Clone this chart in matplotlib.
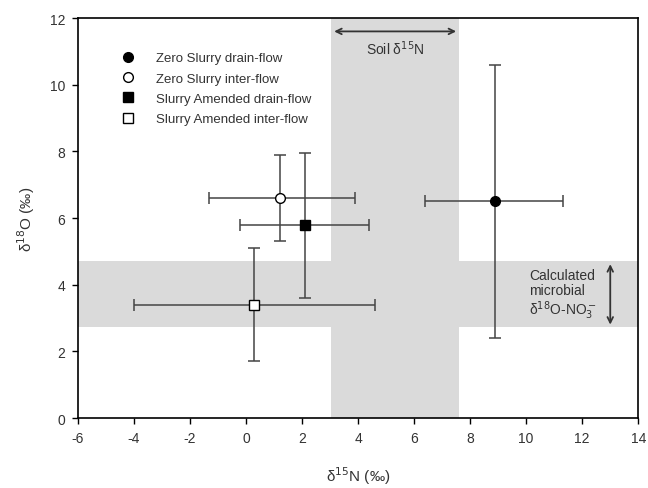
import matplotlib
matplotlib.use("Agg")
import matplotlib.pyplot as plt

plt.rcParams['font.family'] = ['Liberation Sans', 'DejaVu Sans']
plt.rcParams['axes.unicode_minus'] = False

labels = ["Zero Slurry drain-flow", "Zero Slurry inter-flow",
          "Slurry Amended drain-flow", "Slurry Amended inter-flow"]
d15N = [8.9, 1.2, 2.1, 0.3]
d15N_lo = [6.4, -1.3, -0.2, -4.0]
d15N_hi = [11.3, 3.9, 4.4, 4.6]
d18O = [6.5, 6.6, 5.8, 3.4]
d18O_lo = [2.4, 5.3, 3.6, 1.7]
d18O_hi = [10.6, 7.9, 7.95, 5.1]
markers = ["o", "o", "s", "s"]
faces = ["black", "white", "black", "white"]

soil_N = [3.05, 7.6]
micro_O = [2.72, 4.7]

fig = plt.figure(figsize=(6.48, 4.89), dpi=100)
ax = fig.add_axes([0.120, 0.143, 0.865, 0.818])

ax.axvspan(soil_N[0], soil_N[1], color='#dadada', lw=0, zorder=0)
ax.axhspan(micro_O[0], micro_O[1], color='#dadada', lw=0, zorder=0)

for i in range(4):
    xerr = [[d15N[i] - d15N_lo[i]], [d15N_hi[i] - d15N[i]]]
    yerr = [[d18O[i] - d18O_lo[i]], [d18O_hi[i] - d18O[i]]]
    ax.errorbar([d15N[i]], [d18O[i]], xerr=xerr, yerr=yerr, fmt='none',
                ecolor='#444444', elinewidth=1.1, capsize=4, capthick=1.1, zorder=2)
    ax.plot([d15N[i]], [d18O[i]], marker=markers[i], ms=7 if markers[i] == 'o' else 6.5,
            mfc=faces[i], mec='black', mew=1, ls='none', label=labels[i], zorder=3)

# Soil d15N arrow
ax.annotate('', xy=(soil_N[0], 11.6), xytext=(soil_N[1], 11.6),
            arrowprops=dict(arrowstyle='<->', color='#333333', lw=1.3))
ax.text(sum(soil_N) / 2, 11.1, 'Soil δ$^{15}$N', ha='center', va='center',
        fontsize=10, color='#333333')

# microbial d18O arrow
ax.annotate('', xy=(13.0, micro_O[1]), xytext=(13.0, micro_O[0]),
            arrowprops=dict(arrowstyle='<->', color='#333333', lw=1.3))
ax.text(10.1, 3.7, 'Calculated\nmicrobial\nδ$^{18}$O-NO$_3^-$', ha='left', va='center',
        fontsize=10, color='#333333', linespacing=1.1)

ax.set_xlim(-6, 14)
ax.set_ylim(0, 12)
ax.set_xticks(range(-6, 15, 2))
ax.set_yticks(range(0, 13, 2))
ax.tick_params(direction='out', length=4, width=1, labelsize=10, labelcolor='#333333',
               top=False, right=False, pad=5)
for s in ax.spines.values():
    s.set_linewidth(1.2)

ax.set_xlabel('δ$^{15}$N (‰)', fontsize=11, color='#333333', labelpad=14)
ax.set_ylabel('δ$^{18}$O (‰)', fontsize=11, color='#333333', labelpad=9)

ax.legend(loc='upper left', bbox_to_anchor=(0.045, 0.945), frameon=False, fontsize=9.5,
          handletextpad=1.1, labelspacing=0.62, labelcolor='#333333')

fig.savefig('out.png', dpi=100)
